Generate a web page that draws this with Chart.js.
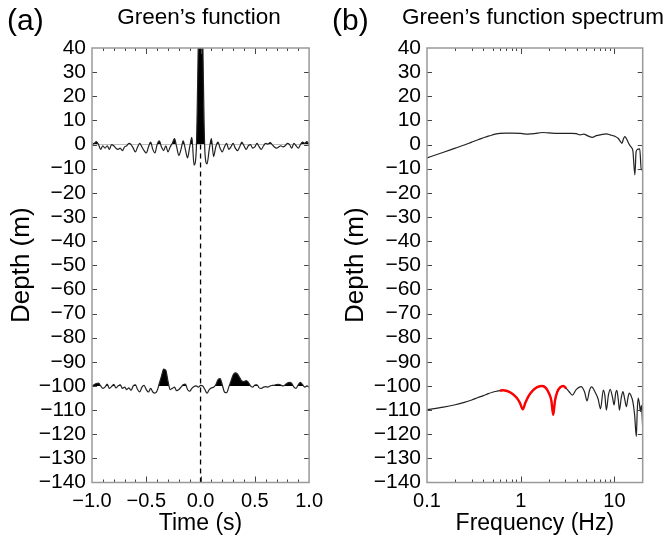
<!DOCTYPE html>
<html>
<head>
<meta charset="utf-8">
<script src="https://cdn.jsdelivr.net/npm/chart.js@4.4.1/dist/chart.umd.min.js"></script>
<style>
  html, body { margin: 0; padding: 0; background: #fff; }
  #wrap { position: relative; width: 672px; height: 543px; }
  #chartA { position: absolute; left: 0; top: 0; }
  #chartB { position: absolute; left: 330px; top: 0; }
</style>
</head>
<body>
<div id="wrap">
  <canvas id="chartA" width="330" height="543"></canvas>
  <canvas id="chartB" width="342" height="543"></canvas>
</div>
<script>
// (a) Green's function, time axis (s)
const timeSec = [
  -1.00, -0.98, -0.96, -0.94, -0.92, -0.90, -0.88, -0.86, -0.84, -0.82,
  -0.80, -0.78, -0.76, -0.74, -0.72, -0.70, -0.68, -0.66, -0.64, -0.62,
  -0.60, -0.58, -0.56, -0.54, -0.52, -0.50, -0.48, -0.46, -0.44, -0.42,
  -0.40, -0.38, -0.36, -0.34, -0.32, -0.30, -0.28, -0.26, -0.24, -0.22,
  -0.20, -0.18, -0.16, -0.14, -0.12, -0.10, -0.08, -0.06, -0.04, -0.02,
   0.00,  0.02,  0.04,  0.06,  0.08,  0.10,  0.12,  0.14,  0.16,  0.18,
   0.20,  0.22,  0.24,  0.26,  0.28,  0.30,  0.32,  0.34,  0.36,  0.38,
   0.40,  0.42,  0.44,  0.46,  0.48,  0.50,  0.52,  0.54,  0.56,  0.58,
   0.60,  0.62,  0.64,  0.66,  0.68,  0.70,  0.72,  0.74,  0.76,  0.78,
   0.80,  0.82,  0.84,  0.86,  0.88,  0.90,  0.92,  0.94,  0.96,  0.98,
   1.00
];
// trace plotted at 0 m
const greenTop = [
   0.0,  0.5,  1.2,  0.0, -2.0, -0.5, -1.5, -0.5, -2.0,  0.0,
  -0.5, -1.5, -2.0, -1.5, -2.5, -1.0, -0.5,  0.5,  0.0, -1.5,
  -3.0, -1.0,  0.5, -1.0, -2.5, -3.5, -1.0,  1.0, -2.0, -3.5,
   0.0,  1.5, -1.0, -2.5, -0.5, -3.0, -1.0,  0.5,  2.5, -1.0,
  -4.5, -2.0,  1.5, -2.0, -5.5, -1.0,  3.0, -8.5, -3.0, 45.0,
 110.0, 45.0, -3.0, -8.0, -2.0,  2.5, -5.0, -1.0,  1.0, -1.5,
  -3.0, -1.0,  0.5, -2.0, -1.0,  0.5, -1.5, -2.5, -1.0,  1.0,
  -0.5, -2.0, -0.5,  0.0, -1.5, -1.0,  0.5, -1.0, -2.0, -0.5,
   0.5,  0.2,  0.8,  0.0, -1.0, -1.5, -1.0, -0.5, -1.0, -0.5,
   0.5,  0.0, -1.5,  0.5, -0.5, -1.5,  0.0,  1.0,  0.5,  1.2,
   0.0
];
// trace plotted at -100 m
const greenBottom = [
  -100.0,  -99.5,  -99.0,  -98.8, -100.0, -101.0, -100.5,  -99.2, -101.0, -100.3,
   -99.3, -100.8, -100.0,  -99.5, -101.0, -100.5, -101.5, -100.8, -101.8, -100.0,
   -99.5, -101.5, -102.5, -100.5,  -99.8, -101.5, -102.5, -101.0, -102.5, -103.0,
  -102.0,  -99.0,  -96.0,  -93.0,  -93.5,  -98.0, -101.5, -101.0, -100.5, -102.0,
  -101.5, -100.5,  -99.5,  -99.2, -101.5, -102.2, -101.0, -100.2, -100.0, -100.5,
   -99.8, -100.0, -101.5, -103.0, -101.5, -100.8, -100.5,  -99.5,  -97.5,  -97.0,
   -99.5, -102.5, -102.8, -100.5,  -98.0,  -95.5,  -94.6,  -95.0,  -96.5,  -98.0,
   -98.2,  -97.8,  -98.5, -100.0, -100.5,  -99.6,  -99.5, -100.8, -101.0, -100.5,
  -100.3, -100.5, -100.0,  -99.8,  -99.7,  -99.4,  -99.3,  -99.6, -100.0,  -99.5,
   -98.8,  -98.5,  -98.9, -100.5, -101.0,  -99.5,  -98.5,  -99.5, -100.5, -100.0,
  -100.5
];

// (b) spectrum, frequency axis (Hz)
const freqTop = [
  0.1, 0.15, 0.2, 0.25, 0.3, 0.35, 0.4, 0.45, 0.5, 0.55, 0.6, 0.7, 0.8, 1.0, 1.2,
  1.4, 1.7, 2.0, 2.5, 3.0, 3.5, 3.9, 4.3, 4.7, 5.2, 5.8, 6.4, 7.2, 8.2, 9.0, 10.0,
  11.0, 11.6, 12.0, 12.5, 12.9, 13.6, 14.4, 15.0, 15.7, 16.5, 17.0, 17.6, 18.6, 19.3, 20
];
const spectrumTop = [
  -5.5, -3.2, -1.5, -0.2, 1.0, 2.0, 2.8, 3.5, 4.0, 4.4, 4.6, 4.7, 4.7, 4.6, 4.3,
  4.5, 5.0, 4.8, 4.6, 4.6, 4.6, 4.5, 4.0, 4.3, 3.6, 3.0, 3.7, 4.1, 4.4, 4.0, 3.5,
  2.5, 1.2, 0.5, 2.5, 3.3, 2.0, 0.0, -1.0, -2.5, -12.6, -3.0, -2.0, -1.8, -10.5, -10.0
];
const freqBottom = [
  0.1, 0.15, 0.2, 0.25, 0.3, 0.35, 0.4, 0.45, 0.5, 0.55, 0.6,
  0.65, 0.7, 0.8, 0.9, 0.98, 1.05, 1.12, 1.22, 1.35, 1.5, 1.7, 1.85, 2.0, 2.12, 2.22,
  2.32, 2.45, 2.65, 2.85, 3.05,
  3.3, 3.55, 3.9, 4.4, 4.8, 5.1, 5.4, 5.7, 6.2, 6.7, 7.1, 7.6, 7.9, 8.2, 8.6, 9.0,
  9.5, 9.9, 10.3, 10.6, 11.0, 11.3, 11.8, 12.3, 12.8, 13.4, 13.9, 14.4, 15.0, 15.7,
  16.4, 17.1, 17.5, 17.9, 18.4, 18.9, 19.4, 20
];
const spectrumBottom = [
  -109.8, -108.8, -107.8, -106.8, -105.8, -104.8, -104.0, -103.2, -102.6, -102.2, -101.9,
  -101.8, -102.0, -103.0, -104.8, -107.0, -109.7, -107.0, -104.0, -101.8, -100.5, -100.0,
  -100.8, -103.0, -106.0, -112.0, -106.0, -102.5, -100.5, -100.0, -101.0,
  -102.5, -103.8, -101.5, -100.3, -102.5, -106.2, -102.0, -100.4, -102.5, -105.5, -109.5,
  -101.7, -104.0, -110.0, -104.0, -101.4, -104.5, -107.9, -103.0, -101.8, -106.0, -110.0,
  -105.0, -102.3, -105.0, -108.6, -105.0, -103.0, -104.0, -106.5, -112.0, -121.0, -110.0,
  -105.0, -107.0, -110.6, -108.0, -117.5
];
// highlighted band of the lower spectrum (Hz)
const redBand = [0.6, 3.05];

const depthTicks = [-140, 40];
const timeLabels = [-1, -0.5, 0, 0.5, 1];
const freqLabels = [0.1, 1, 10];

const FONT = "'Liberation Sans', Arial, sans-serif";
const minus = s => String(s).replace('-', '\u2212');

function pts(xs, ys) {
  return xs.map((x, i) => ({ x: x, y: ys[i] }));
}

// frame, inward ticks and panel titles
const panelDeco = {
  id: 'panelDeco',
  afterDatasetsDraw(chart, args, o) {
    const { ctx, chartArea: a, scales: { x, y } } = chart;
    ctx.save();
    ctx.strokeStyle = '#444';
    ctx.lineWidth = 1;
    const ln = (x1, y1, x2, y2) => { ctx.beginPath(); ctx.moveTo(x1, y1); ctx.lineTo(x2, y2); ctx.stroke(); };
    o.xMinor.forEach(v => {
      const p = Math.round(x.getPixelForValue(v)) + 0.5;
      ln(p, a.bottom, p, a.bottom - 3);
      ln(p, a.top, p, a.top + 3);
    });
    o.xMajor.forEach(v => {
      const p = Math.round(x.getPixelForValue(v)) + 0.5;
      ln(p, a.bottom, p, a.bottom - 6);
      ln(p, a.top, p, a.top + 6);
    });
    for (let v = depthTicks[0] + 10; v < depthTicks[1]; v += 10) {
      const p = Math.round(y.getPixelForValue(v)) + 0.5;
      ln(a.left, p, a.left + 5, p);
      ln(a.right, p, a.right - 5, p);
    }
    ctx.strokeStyle = '#999';
    ctx.lineWidth = 1.5;
    ctx.strokeRect(a.left, a.top, a.right - a.left, a.bottom - a.top);
    ctx.restore();
  },
  afterDraw(chart, args, o) {
    const ctx = chart.ctx;
    ctx.save();
    ctx.fillStyle = '#000';
    ctx.textBaseline = 'middle';
    ctx.textAlign = 'left';
    ctx.font = '30px ' + FONT;
    ctx.fillText(o.tag, o.tagX, 22);
    ctx.textAlign = 'center';
    ctx.font = '22.5px ' + FONT;
    ctx.fillText(o.title, o.titleX, 18);
    ctx.restore();
  }
};

function yScale(width, titlePad) {
  return {
    min: depthTicks[0], max: depthTicks[1],
    grid: { display: false, drawTicks: false }, border: { display: false },
    ticks: { stepSize: 10, autoSkip: false, padding: 6, color: '#000', font: { family: FONT, size: 21 }, callback: v => minus(v) },
    title: { display: true, text: 'Depth (m)', color: '#000', font: { family: FONT, size: 26 }, padding: { top: titlePad, bottom: 0 } },
    afterFit(s) { s.width = width; }
  };
}

function xTitle(text) {
  return { display: true, text: text, color: '#000', font: { family: FONT, size: 23 }, padding: { top: 0, bottom: 6 } };
}

const common = {
  responsive: false,
  animation: false,
  events: [],
  elements: { point: { radius: 0 } },
  plugins: { legend: { display: false }, tooltip: { enabled: false } }
};

const minorTime = [];
for (let i = -9; i <= 9; i++) if (i % 5 !== 0) minorTime.push(i / 10);

new Chart(document.getElementById('chartA'), {
  type: 'line',
  data: {
    datasets: [
      {
        data: pts(timeSec, greenTop),
        borderColor: '#222', borderWidth: 1.2,
        cubicInterpolationMode: 'monotone',
        fill: { target: { value: 0 }, above: '#000', below: 'rgba(0,0,0,0)' }
      },
      {
        data: pts(timeSec, greenBottom),
        borderColor: '#222', borderWidth: 1.2,
        cubicInterpolationMode: 'monotone',
        fill: { target: { value: -100 }, above: '#000', below: 'rgba(0,0,0,0)' }
      },
      {
        data: [{ x: 0, y: depthTicks[0] }, { x: 0, y: depthTicks[1] }],
        borderColor: '#000', borderWidth: 1.3, borderDash: [5, 4], fill: false
      }
    ]
  },
  options: {
    ...common,
    layout: { padding: { left: 0, right: 330 - 309.3, top: 48, bottom: 0 } },
    scales: {
      x: {
        type: 'linear', min: -1, max: 1,
        grid: { display: false, drawTicks: false }, border: { display: false },
        afterBuildTicks(s) { s.ticks = timeLabels.map(v => ({ value: v })); },
        ticks: { padding: 7, color: '#000', font: { family: FONT, size: 20 }, maxRotation: 0, autoSkip: false, callback: v => minus(Number(v).toFixed(1)) },
        title: xTitle('Time (s)'),
        afterFit(s) { s.height = 60.5; }
      },
      y: yScale(92, 6)
    },
    plugins: {
      ...common.plugins,
      panelDeco: { xMinor: minorTime, xMajor: timeLabels.slice(1, -1), tag: '(a)', tagX: 7, title: 'Green\u2019s function', titleX: 199 }
    }
  },
  plugins: [panelDeco]
});

const minorFreq = [0.2, 0.3, 0.4, 0.5, 0.6, 0.7, 0.8, 0.9, 2, 3, 4, 5, 6, 7, 8, 9];
const redIdx = freqBottom.map((f, i) => (f >= redBand[0] && f <= redBand[1]) ? i : -1).filter(i => i >= 0);

new Chart(document.getElementById('chartB'), {
  type: 'line',
  data: {
    datasets: [
      {
        data: redIdx.map(i => ({ x: freqBottom[i], y: spectrumBottom[i] })),
        borderColor: '#ff0000', borderWidth: 2.4,
        cubicInterpolationMode: 'monotone', fill: false
      },
      {
        data: pts(freqTop, spectrumTop),
        borderColor: '#222', borderWidth: 1.2,
        cubicInterpolationMode: 'monotone', fill: false
      },
      {
        data: pts(freqBottom, spectrumBottom),
        borderColor: '#222', borderWidth: 1.2,
        cubicInterpolationMode: 'monotone', fill: false
      }
    ]
  },
  options: {
    ...common,
    layout: { padding: { left: 0, right: 342 - 312.7, top: 48, bottom: 0 } },
    scales: {
      x: {
        type: 'logarithmic', min: 0.1, max: 20,
        grid: { display: false, drawTicks: false }, border: { display: false },
        afterBuildTicks(s) { s.ticks = freqLabels.map(v => ({ value: v })); },
        ticks: { padding: 7, color: '#000', font: { family: FONT, size: 20 }, maxRotation: 0, autoSkip: false, callback: v => String(v) },
        title: xTitle('Frequency (Hz)'),
        afterFit(s) { s.height = 60.5; }
      },
      y: yScale(97, 10)
    },
    plugins: {
      ...common.plugins,
      panelDeco: { xMinor: minorFreq, xMajor: [1, 10], tag: '(b)', tagX: 2, title: 'Green\u2019s function spectrum', titleX: 203 }
    }
  },
  plugins: [panelDeco]
});
</script>
</body>
</html>
